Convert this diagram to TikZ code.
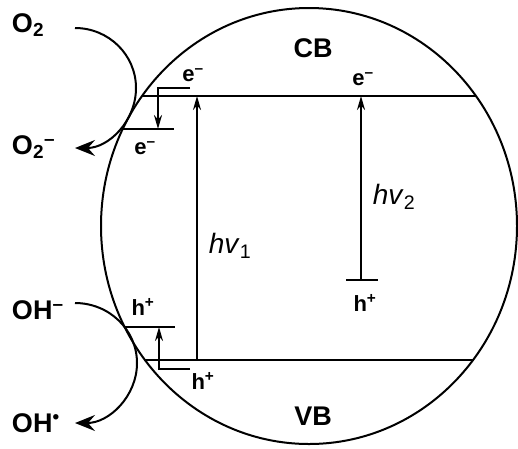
\documentclass[tikz,border=0pt]{standalone}
\usepackage{fontspec}
\setmainfont{Liberation Sans}
\usetikzlibrary{arrows.meta}

\begin{document}
\begin{tikzpicture}[x=1pt, y=-1pt, line width=2pt,
  bandlbl/.style={font=\fontsize{27}{30}\selectfont\bfseries, inner sep=0pt},
  chglbl/.style={font=\fontsize{22}{24}\selectfont\bfseries, inner sep=0pt},
  nulbl/.style={font=\fontsize{28}{30}\selectfont, inner sep=0pt},
  tip/.style={-{Stealth[length=14pt, width=8pt]}},
  bigtip/.style={-{Stealth[length=20pt, width=16pt, inset=7pt]}}
]
  \useasboundingbox (0,0) rectangle (518,448);

  % particle
  \draw (309,226) ellipse[x radius=208, y radius=218];

  % band edges
  \coordinate (cbL) at (142,96);  \coordinate (cbR) at (476,96);
  \coordinate (vbL) at (144,360); \coordinate (vbR) at (474,360);
  \draw (cbL) -- (cbR);
  \draw (vbL) -- (vbR);
  \node[bandlbl] (cb) at (313,48) {CB};
  \node[bandlbl] (vb) at (313,416) {VB};

  % surface states
  \coordinate (esL) at (123,129); \coordinate (esR) at (174,129);
  \coordinate (hsL) at (125,327); \coordinate (hsR) at (175,327);
  \draw (esL) -- (esR);
  \draw (hsL) -- (hsR);

  % excitations
  \coordinate (nu1b) at (197,360); \coordinate (nu1t) at (197,96);
  \draw[tip] (nu1b) -- (nu1t);
  \node[nulbl] (nu1) at (230,246) {\textit{hv}\textsubscript{1}};
  \coordinate (nu2b) at (361,280); \coordinate (nu2t) at (361,96);
  \draw (346,280) -- (378,280);
  \draw[tip] (nu2b) -- (nu2t);
  \node[nulbl] (nu2) at (394,197) {\textit{hv}\textsubscript{2}};

  % trapping steps
  \coordinate (etrap) at (190,88);
  \draw[tip] (etrap) -- (158,88) -- (158,129);
  \coordinate (htrap) at (190,369);
  \draw[tip] (htrap) -- (159,369) -- (159,327);

  % carriers
  \node[chglbl] (e1) at (193,75) {e\textsuperscript{–}};
  \node[chglbl] (e2) at (145,148) {e\textsuperscript{–}};
  \node[chglbl] (e3) at (363,79) {e\textsuperscript{–}};
  \node[chglbl] (h1) at (143,307) {h\textsuperscript{+}};
  \node[chglbl] (h2) at (203,381) {h\textsuperscript{+}};
  \node[chglbl] (h3) at (365,303) {h\textsuperscript{+}};

  % redox species
  \node[bandlbl, anchor=west] (o2) at (11,25) {O\textsubscript{2}};
  \node[bandlbl, anchor=west] (o2m) at (11,147) {O\textsubscript{2}\textsuperscript{–}};
  \node[bandlbl, anchor=west] (ohm) at (11,310) {OH\textsuperscript{–}};
  \node[bandlbl, anchor=west] (ohr) at (11,423) {OH\textsuperscript{•}};
  \coordinate (o2s) at (75,28);
  \draw[bigtip] (o2s) arc[start angle=-90, end angle=90, x radius=61, y radius=60];
  \coordinate (ohs) at (75,303);
  \draw[bigtip] (ohs) arc[start angle=-90, end angle=90, x radius=62, y radius=60];
\end{tikzpicture}
\end{document}
